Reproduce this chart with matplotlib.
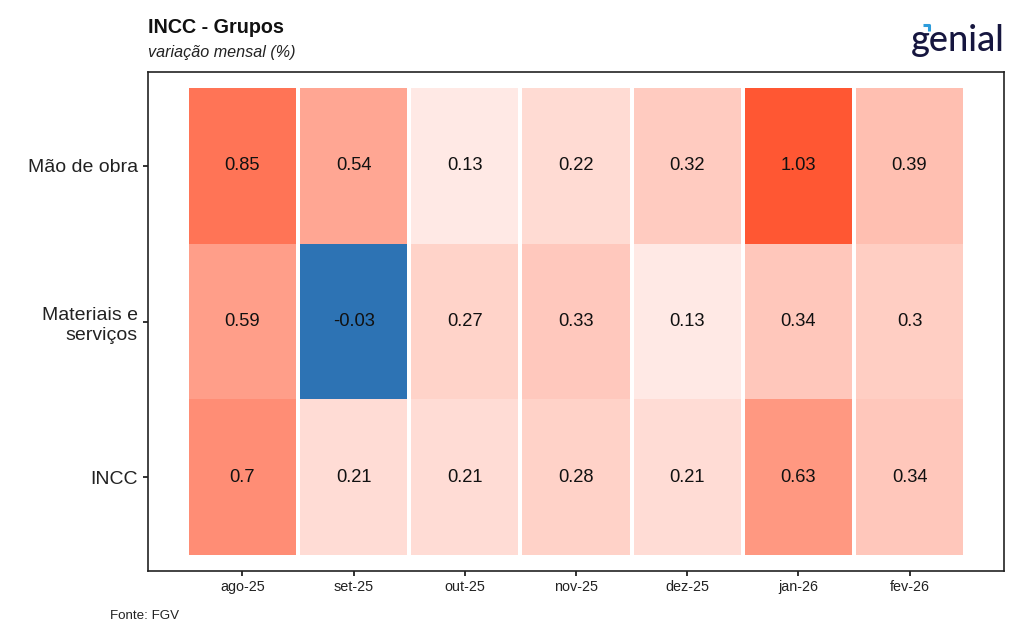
import matplotlib
matplotlib.use("Agg")
import matplotlib.pyplot as plt
import numpy as np
from matplotlib.colors import LinearSegmentedColormap, TwoSlopeNorm
from matplotlib.lines import Line2D

plt.rcParams['font.family'] = ['Liberation Sans', 'DejaVu Sans']

months = ["ago-25", "set-25", "out-25", "nov-25", "dez-25", "jan-26", "fev-26"]
groups = ["INCC", "Materiais e\nserviços", "Mão de obra"]  # bottom to top
mao_de_obra = [0.85, 0.54, 0.13, 0.22, 0.32, 1.03, 0.39]
materiais = [0.59, -0.03, 0.27, 0.33, 0.13, 0.34, 0.30]
incc = [0.70, 0.21, 0.21, 0.28, 0.21, 0.63, 0.34]

values = np.array([incc, materiais, mao_de_obra])
text_rows = [[f"{v:g}" for v in row] for row in values]

cmap = LinearSegmentedColormap.from_list("bwr_custom", ["#2D73B4", "#FFFFFF", "#FF5733"])
norm = TwoSlopeNorm(vmin=values.min(), vcenter=0.0, vmax=values.max())

fig = plt.figure(figsize=(10.24, 6.4), dpi=100)
ax = fig.add_axes([148/1024, 1-571/640, (1004-148)/1024, (571-72)/640])

for r in range(values.shape[0]):
    ax.bar(np.arange(len(months)), height=1.0, bottom=r-0.5, width=0.965,
           color=cmap(norm(values[r])), linewidth=0, zorder=1)
    for c in range(len(months)):
        ax.text(c, r, text_rows[r][c], ha='center', va='center',
                fontsize=13.2, color='#111111', zorder=3)

ax.set_xlim(-0.85, len(months) - 1 + 0.85)
ax.set_ylim(-0.6, 2.6)
ax.set_xticks(np.arange(len(months)))
ax.set_xticklabels(months, fontsize=10.4, color='#222222')
ax.set_yticks(np.arange(len(groups)))
ax.set_yticklabels(groups, fontsize=14, color='#222222', linespacing=1.3)
ax.tick_params(axis='both', length=3.6, width=1.3, color='#222222')
ax.tick_params(axis='x', pad=3)
ax.tick_params(axis='y', pad=3.6)
for s in ax.spines.values():
    s.set_linewidth(1.2)
    s.set_color('#222222')

fig.text(148/1024, 1-33/640, "INCC - Grupos", fontsize=14.2, fontweight='bold',
         color='#111111', va='baseline', ha='left')
fig.text(148/1024, 1-57/640, "variação mensal (%)", fontsize=11.6, style='italic',
         color='#222222', va='baseline', ha='left')
fig.text(110/1024, 1-619/640, "Fonte: FGV", fontsize=9.6, color='#222222',
         va='baseline', ha='left')

# logo
fig.text(1005/1024, 1-51/640, "genial", fontsize=26, color='#16163F',
         fontfamily=['Lato', 'DejaVu Sans'], fontweight='medium', ha='right', va='baseline')
fig.add_artist(Line2D([923/1024, 929/1024, 929/1024], [1-25/640, 1-25/640, 1-31/640],
                      transform=fig.transFigure, color='#2D9CDB', linewidth=2.2,
                      solid_capstyle='butt'))

fig.savefig("out.png", dpi=100, facecolor='white')
